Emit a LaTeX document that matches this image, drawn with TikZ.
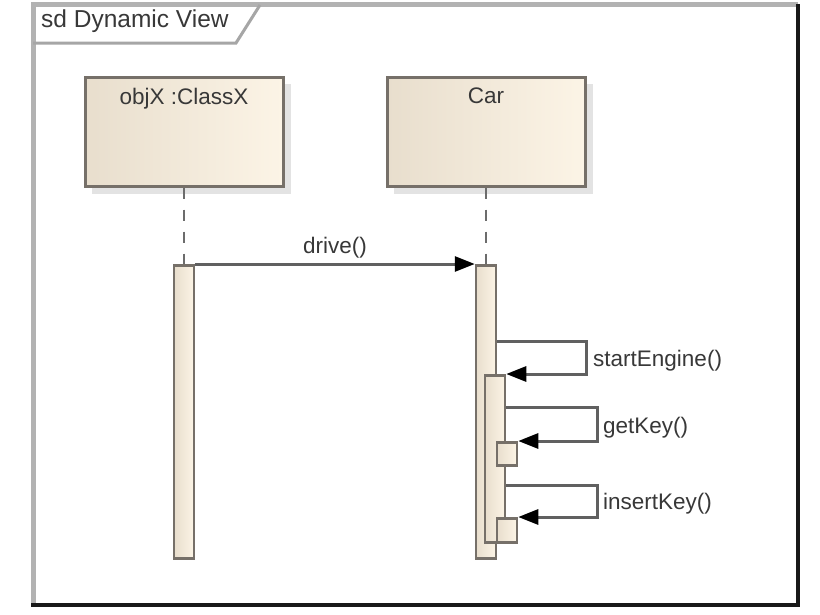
\documentclass[tikz,border=0pt]{standalone}
\usepackage{fontspec}
\setmainfont{Liberation Sans}
\usetikzlibrary{positioning,arrows.meta}
\definecolor{boxL}{HTML}{E8DECD}
\definecolor{boxR}{HTML}{FCF4E6}
\definecolor{edge}{HTML}{767069}
\begin{document}
\begin{tikzpicture}[x=1pt,y=-1pt,
    lbl/.style={font=\fontsize{22.5}{25}\selectfont, text=black!78, inner sep=1pt},
    obj/.style={draw=edge, line width=3pt, left color=boxL, right color=boxR,
      minimum width=198pt, minimum height=109pt, inner sep=0pt},
    bar/.style={draw=edge, line width=2.5pt, left color=boxL, right color=boxR,
      minimum width=20pt, inner sep=0pt, anchor=north},
    life/.style={draw=gray!85!black, line width=2.5pt, dash pattern=on 11pt off 11pt},
    msg/.style={draw=gray!75!black, line width=3pt,
      -{Triangle[length=20pt,width=15pt,color=black]}}]
\useasboundingbox (0,0) rectangle (820,614);
\fill[white] (0,0) rectangle (820,614);

% cadre et onglet
\draw[gray!60, line width=5pt] (33,606) -- (33,4) -- (798,4);
\draw[black!90, line width=4pt] (798,4) -- (798,605) -- (31,605);
\draw[gray!70, line width=3pt] (33,43) -- (236,43) -- (260,5);
\node[lbl, font=\fontsize{24.5}{27}\selectfont, anchor=west] (title) at (40,21) {sd Dynamic View};

% objets
\fill[gray!22] (92,84) rectangle (291,194);
\fill[gray!22] (394,84) rectangle (593,194);
\node[obj] (objx) at (184,131.5) {};
\node[obj] (car) at (486,131.5) {};
\node[lbl, below=11pt of objx.north] (objxname) {objX :ClassX};
\node[lbl, below=11pt of car.north] (carname) {Car};

% lignes de vie
\draw[life] (objx.south) -- (184,264);
\draw[life] (car.south) -- (486,264);

% activations
\node[bar, minimum height=293pt] (xbar) at (184,264) {};
\node[bar, minimum height=293pt] (carbar) at (486,264) {};
\node[bar, minimum height=167pt] (engbar) at (495,374) {};
\node[bar, minimum height=23pt] (keybar) at (507,441) {};
\node[bar, minimum height=24pt] (insbar) at (507,517) {};

% messages
\draw[msg] (xbar.north east) -- node[lbl, above=3pt] (drivelbl) {drive()} (carbar.north west);
\draw[msg] (carbar.east |- 0,341) -- (586,341) |- (engbar.north east);
\draw[msg] (engbar.east |- 0,407) -- (597,407) |- (keybar.north east);
\draw[msg] (engbar.east |- 0,485) -- (597,485) |- (insbar.north east);
\node[lbl, anchor=west] (englbl) at (592,361) {startEngine()};
\node[lbl, anchor=west] (keylbl) at (602,428) {getKey()};
\node[lbl, anchor=west] (inslbl) at (602,504) {insertKey()};
\end{tikzpicture}
\end{document}
